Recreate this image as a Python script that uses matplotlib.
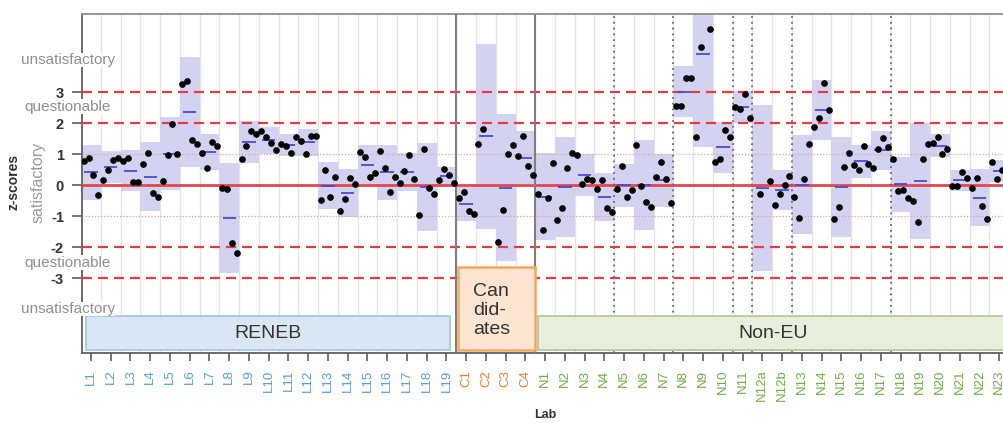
import matplotlib
matplotlib.use("Agg")
import matplotlib.pyplot as plt
import matplotlib.transforms as mtransforms
from matplotlib.patches import Rectangle
import numpy as np

plt.rcParams["font.family"] = ["Liberation Sans", "DejaVu Sans"]
plt.rcParams["axes.unicode_minus"] = False

nan = np.nan

labs = ["L1", "L2", "L3", "L4", "L5", "L6", "L7", "L8", "L9", "L10",
        "L11", "L12", "L13", "L14", "L15", "L16", "L17", "L18", "L19",
        "C1", "C2", "C3", "C4",
        "N1", "N2", "N3", "N4", "N5", "N6", "N7", "N8", "N9", "N10", "N11",
        "N12a", "N12b", "N13", "N14", "N15", "N16", "N17", "N18", "N19",
        "N20", "N21", "N22", "N23"]
groups = ["L"] * 19 + ["C"] * 4 + ["N"] * 24

# z-scores of the four samples per lab (nan = not reported / off chart)
rep1 = [0.77, 0.16, 0.77, 0.69, 0.13, 3.27, 1.02, -0.11, 0.83, 1.76,
        1.31, 1.41, -0.47, -0.85, 1.06, 1.09, 0.08, -0.97, 0.17,
        -0.42, 1.34, -1.83, 0.95,
        -0.30, -1.12, 0.97, -0.12, -0.12, 1.29, 0.26, 2.56, 1.54, 0.73, 2.53,
        nan, -0.65, -0.39, 1.87, -1.11, 0.65, 0.56, 0.85, -0.52,
        1.37, -0.03, -0.11, 0.74]
rep2 = [0.88, 0.50, 0.88, 1.02, 0.97, 3.35, 0.56, -0.12, 1.26, 1.55,
        1.26, 0.99, 0.49, -0.44, 0.91, 0.54, 0.44, 1.17, 0.53,
        -0.23, 1.81, -0.82, 1.59,
        -1.46, -0.73, 0.04, 0.16, 0.63, -0.04, 0.73, 2.56, 4.44, 0.83, 2.45,
        -0.30, -0.30, -1.05, 2.16, -0.72, 0.48, 1.17, -0.19, -1.19,
        1.55, -0.03, 0.22, 0.20]
rep3 = [0.31, 0.81, 0.11, -0.27, 1.96, 1.46, 1.39, -1.88, 1.76, 1.37,
        1.03, 1.57, -0.39, 0.24, 0.25, -0.24, 0.97, -0.11, 0.33,
        -0.85, nan, 1.01, 0.63,
        -0.43, 0.56, 0.18, -0.73, -0.39, -0.54, 0.19, 3.44, 5.90, 1.77, 2.93,
        nan, 0.00, 0.18, 3.28, 0.57, 1.26, 1.51, -0.17, 0.85,
        1.01, 0.42, -0.66, 0.48]
rep4 = [-0.33, 0.86, 0.10, -0.39, 1.01, 1.31, 1.25, -2.18, 1.66, 1.12,
        1.56, 1.57, 0.27, 0.02, 0.38, 0.26, 0.20, -0.30, 0.08,
        -0.95, nan, 1.29, 0.34,
        0.70, 1.02, 0.15, -0.87, -0.17, -0.71, -0.57, 3.47, 5.02, 1.56, 2.15,
        0.12, 0.29, 1.33, 2.43, 1.02, 0.67, 1.24, -0.41, 1.34,
        1.16, 0.24, -1.09, 0.38]

label_colors = {"L": "#5b9bd5", "C": "#ed7d31", "N": "#70ad47"}
t95 = {2: 12.706, 3: 4.303, 4: 3.182}

vals = np.array([rep1, rep2, rep3, rep4]).T
x = np.arange(len(labs))
n = np.sum(~np.isnan(vals), axis=1)
mean = np.nanmean(vals, axis=1)
sd = np.nanstd(vals, axis=1, ddof=1)
half = np.array([t95[k] for k in n]) * sd / np.sqrt(n)

W, H = 1004, 423
fig = plt.figure(figsize=(W / 100, H / 100), dpi=100)
ax = fig.add_axes([82 / W, 70 / H, 937 / W, 339 / H])
ax.set_xlim(-0.456, 47.0)
ax.set_ylim(-5.42, 5.52)

# light column grid
ax.vlines(np.arange(-0.5, 47.5, 1), -5.42, 5.52, color="#e4e4e4", lw=0.9, zorder=0)

# confidence boxes, means and samples
ax.bar(x, 2 * half, bottom=mean - half, width=1.0, color="#d3d3f1", lw=0, zorder=1)
ax.hlines(mean, x - 0.34, x + 0.34, color="#4b4bd0", lw=1.3, zorder=5)
for j, off in enumerate([-0.375, -0.125, 0.125, 0.375]):
    ax.plot(x + off, vals[:, j], "o", color="black", ms=3.8, zorder=6)

# reference lines
ax.axhline(0, color="#e4464e", lw=2.0, zorder=3)
for y in (1, -1):
    ax.axhline(y, color="#e6a0a0", lw=0.9, ls=(0, (1, 1.5)), zorder=3)
for y in (3, 2, -2, -3):
    ax.axhline(y, color="#e33a44", lw=1.6, ls=(0, (4.5, 2.7)), zorder=3)

# group separators and dotted sub-separators
for xs in (18.5, 22.5):
    ax.axvline(xs, color="#7f7f7f", lw=1.5, zorder=4)
for xs in (26.5, 29.5, 32.5, 33.5, 35.5, 40.5):
    ax.axvline(xs, color="#6a6a6a", lw=1.3, ls=(0, (1, 2.2)), zorder=4)

# group boxes
ax.add_patch(Rectangle((-0.25, -5.32), 18.45, 1.09, facecolor="#dae6f4",
                       edgecolor="#a7c6e8", lw=1.3, zorder=7))
ax.text(8.98, -4.80, "RENEB", ha="center", va="center", fontsize=14,
        color="#333333", zorder=8)
ax.add_patch(Rectangle((18.57, -5.33), 3.9, 2.68, facecolor="#fce4d2",
                       edgecolor="#f2a95c", lw=1.8, zorder=7))
ax.text(20.3, -4.05, "Can\ndid-\nates", ha="center", va="center", fontsize=14,
        color="#333333", linespacing=1.15, multialignment="left", zorder=8)
ax.add_patch(Rectangle((22.66, -5.32), 23.8, 1.09, facecolor="#e8eedb",
                       edgecolor="#b6c89c", lw=1.3, zorder=7))
ax.text(34.56, -4.80, "Non-EU", ha="center", va="center", fontsize=14,
        color="#333333", zorder=8)

# axes styling
for side in ("left", "bottom", "top"):
    ax.spines[side].set_color("#606060")
    ax.spines[side].set_linewidth(1.3)
ax.spines["top"].set_color("#8c8c8c")
ax.spines["right"].set_visible(False)

ax.set_yticks([3, 2, 1, 0, -1, -2, -3])
ax.set_yticklabels(["3", "2", "1", "0", "-1", "-2", "-3"], fontsize=10.5,
                   fontweight="bold", color="#333333")
ax.tick_params(axis="y", length=7, width=1.1, color="#505050", pad=6)

ax.set_xticks(x)
ax.set_xticklabels(labs, rotation=90, fontsize=9.5)
for lbl, g in zip(ax.get_xticklabels(), groups):
    lbl.set_color(label_colors[g])
ax.tick_params(axis="x", length=6, width=1.1, color="#505050", pad=6)

ax.set_xlabel("Lab", fontsize=9, fontweight="bold", color="#333333")
ax.xaxis.set_label_coords((545 - 82) / 937, -56 / 339)

# verdict labels on the left
trans = mtransforms.blended_transform_factory(fig.transFigure, ax.transData)
side_labels = [("unsatisfactory", 4.03), ("questionable", 2.53),
               ("questionable", -2.5), ("unsatisfactory", -4.0)]
for txt, yv in side_labels:
    ax.text(68 / W, yv, txt, transform=trans, ha="center", va="center",
            fontsize=11, color="#8f8f8f", clip_on=False, zorder=10,
            bbox=dict(facecolor="white", edgecolor="none", pad=0.1))
ax.text(38 / W, 0.1, "satisfactory", transform=trans, ha="center", va="center",
        rotation=90, fontsize=11.5, color="#9a9a9a", clip_on=False)
ax.text(14 / W, 0.1, "z-scores", transform=trans, ha="center", va="center",
        rotation=90, fontsize=10, fontweight="bold", color="#333333", clip_on=False)

fig.savefig("out.png", dpi=100)
